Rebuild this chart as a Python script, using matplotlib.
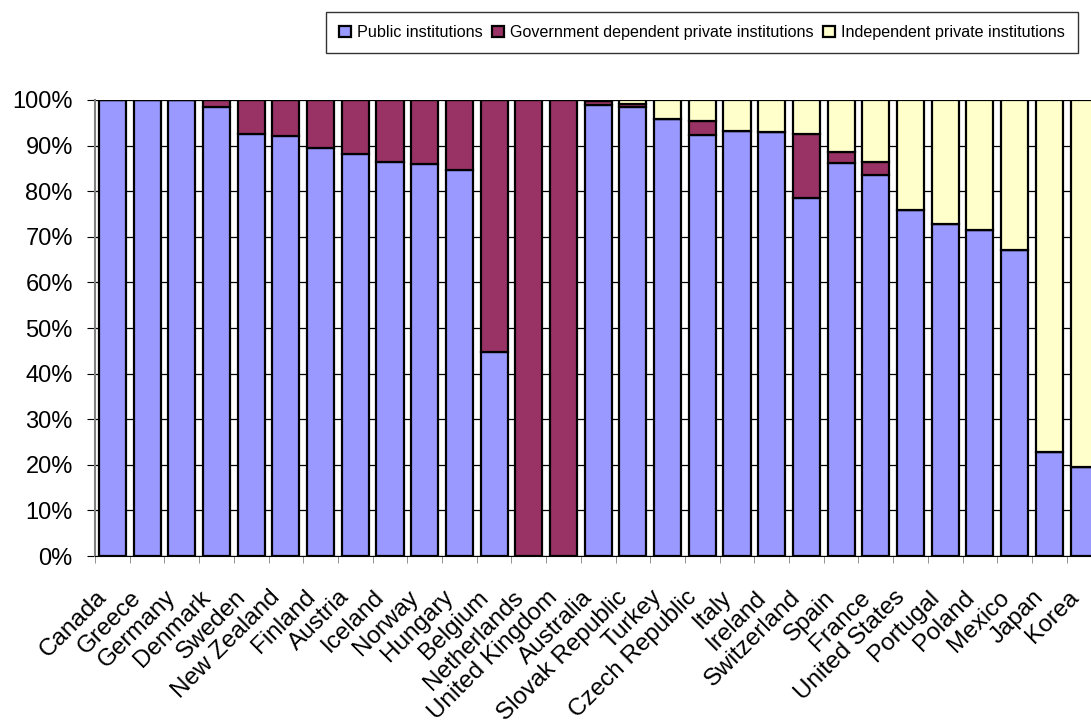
import matplotlib
matplotlib.use('Agg')
import matplotlib.pyplot as plt
import matplotlib.transforms as mtransforms
import numpy as np
from matplotlib.ticker import FixedLocator, PercentFormatter

# --- Data (share of students, %) ---
countries = ["Canada", "Greece", "Germany", "Denmark", "Sweden", "New Zealand",
             "Finland", "Austria", "Iceland", "Norway", "Hungary", "Belgium",
             "Netherlands", "United Kingdom", "Australia", "Slovak Republic",
             "Turkey", "Czech Republic", "Italy", "Ireland", "Switzerland",
             "Spain", "France", "United States", "Portugal", "Poland",
             "Mexico", "Japan", "Korea"]

public = [100, 100, 100, 98.5, 92.5, 92.1, 89.4, 88.2, 86.3, 85.9, 84.6, 44.7,
          0, 0, 98.9, 98.4, 95.9, 92.4, 93.3, 92.9, 78.4, 86.2, 83.6, 75.8,
          72.7, 71.4, 67.0, 22.7, 19.6]
gov_dependent = [0, 0, 0, 1.5, 7.5, 7.9, 10.6, 11.8, 13.7, 14.1, 15.4, 55.3,
                 100, 100, 0.8, 0.7, 0, 3.1, 0, 0, 14.1, 2.4, 2.8, 0,
                 0, 0, 0, 0, 0]
independent = [0, 0, 0, 0, 0, 0, 0, 0, 0, 0, 0, 0,
               0, 0, 0.3, 0.9, 4.1, 4.5, 6.7, 7.1, 7.5, 11.4, 13.6, 24.2,
               27.3, 28.6, 33.0, 77.3, 80.4]

series = [("Public institutions", public, "#9999FF"),
          ("Government dependent private institutions", gov_dependent, "#993366"),
          ("Independent private institutions", independent, "#FFFFCC")]

plt.rcParams['font.family'] = ['Liberation Sans', 'DejaVu Sans']

fig = plt.figure(figsize=(10.91, 7.22), dpi=100)
ax = fig.add_axes([0.0871, 0.2299, 0.9129, 0.6316])

x = np.arange(len(countries))
bottom = np.zeros(len(countries))
for name, vals, color in series:
    vals = np.array(vals, dtype=float)
    ax.bar(x, vals, bottom=bottom, width=0.78, color=color, edgecolor='black',
           linewidth=1.6, label=name, zorder=3)
    bottom += vals

ax.set_ylim(0, 100)
ax.set_xlim(-0.5, 28.2)
ax.yaxis.set_major_formatter(PercentFormatter(decimals=0))
ax.set_yticks(np.arange(0, 101, 10))
ax.yaxis.grid(True, color='black', linewidth=0.9, zorder=0)
ax.set_axisbelow(True)

# category labels: slanted, anchored a bit left of and below each category
ax.set_xticks(x)
ax.set_xticklabels([])
ax.tick_params(axis='x', which='major', length=0)
offset = mtransforms.ScaledTranslation(-0.09, -0.38, fig.dpi_scale_trans)
label_tr = ax.get_xaxis_transform() + offset
for xi, name in zip(x, countries):
    ax.text(xi, 0, name, transform=label_tr, rotation=45, ha='right',
            va='center', rotation_mode='anchor', fontsize=17.5, clip_on=False)

ax.xaxis.set_minor_locator(FixedLocator(np.arange(-0.5, len(countries), 1)))
ax.tick_params(axis='x', which='minor', length=5, color='#808080')
ax.tick_params(axis='y', length=6, labelsize=17, pad=10)

ax.spines['top'].set_visible(False)
ax.spines['right'].set_visible(False)
ax.spines['left'].set_color('#808080')
ax.spines['left'].set_linewidth(1.5)
ax.spines['bottom'].set_color('black')

leg = fig.legend(loc='upper right', bbox_to_anchor=(0.988, 0.983), ncol=3,
                 fontsize=11.6, frameon=True, fancybox=False, edgecolor='black',
                 handlelength=0.7, handleheight=0.7, handletextpad=0.4,
                 columnspacing=0.6, borderpad=0.8, borderaxespad=0)
leg.get_frame().set_linewidth(1.0)

fig.savefig('out.png', dpi=100)
